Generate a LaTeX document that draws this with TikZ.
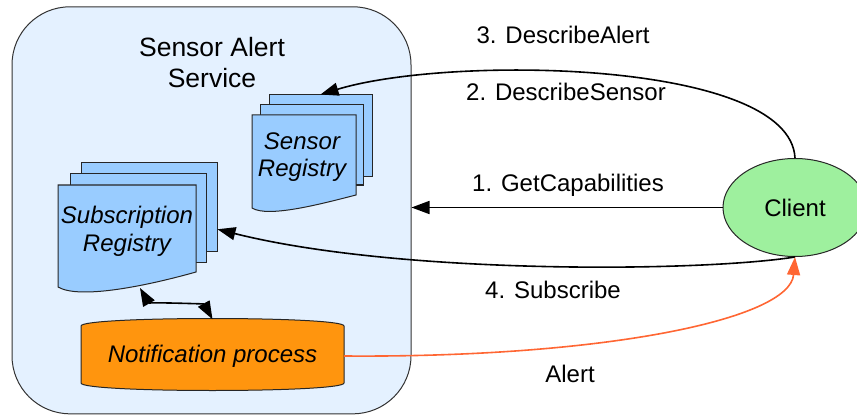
\documentclass[tikz,border=0pt]{standalone}
\usepackage{fontspec}
\setmainfont{Liberation Sans}
\usetikzlibrary{arrows.meta,shapes.geometric}
\definecolor{servicebg}{HTML}{E4F1FF}
\definecolor{docblue}{HTML}{99CCFF}
\definecolor{notiforange}{HTML}{FF950E}
\definecolor{clientgreen}{HTML}{9EF09E}
\definecolor{alertred}{HTML}{FF6633}

\begin{document}
\begin{tikzpicture}[x=1pt,y=-1pt,
  font=\fontsize{24}{29}\selectfont,
  doc/.style={draw=black!85,fill=docblue,line width=1pt,inner sep=0pt},
  tip/.tip={Triangle[length=18pt,width=13pt]},
  link/.style={line width=1.6pt,-tip},
  lbl/.style={anchor=base,inner sep=0pt}]
\useasboundingbox (0,0) rectangle (857,417);

\node[draw=black!80,fill=servicebg,line width=1pt,rounded corners=58pt,
  minimum width=399pt,minimum height=407pt] (service) at (211.5,210.3) {};
\node[align=center,font=\fontsize{26.5}{31}\selectfont] (title) at (212,62.5) {Sensor Alert\\Service};

\node[doc,minimum width=103pt,minimum height=82pt] (sensorb) at (320.5,136) {};
\node[doc,minimum width=103pt,minimum height=80pt] (sensorm) at (311.5,145) {};
\draw[doc] (252,115) -- (356,115) -- (356,195) .. controls (321,204) and (268,218) .. (252,208) -- cycle;
\node[align=center,font=\fontsize{24}{27}\selectfont\itshape] (sensor) at (302,157.3) {Sensor\\Registry};

\node[doc,minimum width=136pt,minimum height=88pt] (subb) at (149,207) {};
\node[doc,minimum width=136pt,minimum height=88pt] (subm) at (138,218) {};
\draw[doc] (58,185) -- (196,185) -- (196,272) .. controls (150,285) and (80,300) .. (58,287) -- cycle;
\node[align=center,font=\fontsize{24}{28}\selectfont\itshape] (sub) at (127,231.7) {Subscription\\Registry};
\coordinate (subdoc) at (140,288);

\draw[draw=black!85,fill=notiforange,line width=1pt] (81,326) .. controls (81,316) and (344,316) .. (344,326)
  -- (344,383) .. controls (344,393) and (81,393) .. (81,383) -- cycle;
\node[minimum width=263pt,minimum height=73pt,font=\fontsize{24}{29}\selectfont\itshape] (notif) at (212.5,356) {Notification process};

\node[ellipse,draw=black!85,fill=clientgreen,line width=1pt,inner sep=0pt,
  minimum width=144pt,minimum height=98pt] (client) at (795,207.5) {Client};

\draw[link] (client.west) -- (client.west -| service.east);
\draw[link] (client.north) .. controls (790,60) and (450,55) .. (sensorb.north);
\draw[link] (client.south) .. controls (700,272) and (400,275) .. (subb.-18);
\draw[link,tip-tip] (subdoc) .. controls (148,302) and (204,304) .. (notif.north);
\draw[link,draw=alertred] (notif.east) .. controls (600,358) and (790,320) .. (client.south);

\node[lbl] (lbldescalert) at (563,44) {3. DescribeAlert};
\node[lbl] (lbldescsensor) at (566,101) {2. DescribeSensor};
\node[lbl] (lblgetcap) at (568,192) {1. GetCapabilities};
\node[lbl] (lblsubscribe) at (553,298) {4. Subscribe};
\node[lbl] (lblalert) at (570,382) {Alert};
\end{tikzpicture}
\end{document}
